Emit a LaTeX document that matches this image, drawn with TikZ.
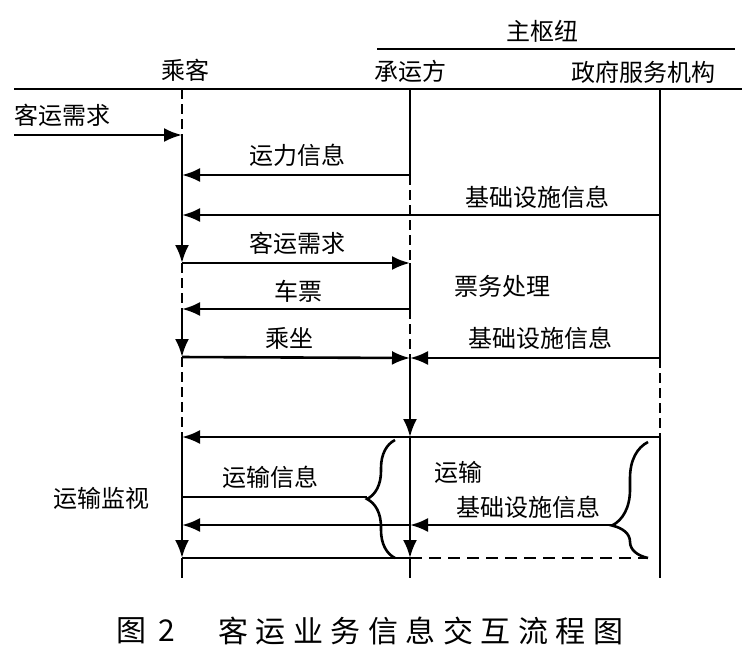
\documentclass[tikz,border=0pt]{standalone}
\usepackage{fontspec}
\usetikzlibrary{arrows.meta,decorations.pathreplacing}
\setmainfont{Noto Sans CJK SC}
\newfontfamily\capfont[LetterSpace=25]{Noto Sans CJK SC}

\tikzset{
  life/.style={line width=1.3pt},
  lifedash/.style={line width=1.3pt,dash pattern=on 5pt off 2.5pt},
  msg/.style={line width=1.3pt,-{Latex[length=9pt,width=7pt]}},
  lbl/.style={font=\fontsize{12}{14}\selectfont,inner sep=0pt}
}

\begin{document}
\begin{tikzpicture}[x=0.5pt,y=-0.5pt]
\useasboundingbox (0,0) rectangle (753,661);

% head
\coordinate (tl) at (377,49);
\coordinate (tr) at (735,49);
\coordinate (hl) at (14,89);
\coordinate (hr) at (742,89);
\node[lbl] (hub) at (542,31) {主枢纽};
\node[lbl] (pas) at (185,70) {乘客};
\node[lbl] (car) at (410,71) {承运方};
\node[lbl] (gov) at (643,72) {政府服务机构};
\draw[life] (tl) -- (tr);
\draw[life] (hl) -- (hr);

% passenger
\coordinate (p0) at (182,89);
\coordinate (p1) at (182,135);
\coordinate (p2) at (182,175);
\coordinate (p3) at (182,215);
\coordinate (p4) at (182,263);
\coordinate (p5) at (182,309);
\coordinate (p6) at (182,357);
\coordinate (p7) at (182,437);
\coordinate (p8) at (182,497);
\coordinate (p9) at (182,525);
\coordinate (p10) at (182,558);
\coordinate (p11) at (182,578);
% carrier
\coordinate (c0) at (410,89);
\coordinate (c2) at (410,175);
\coordinate (c4) at (410,263);
\coordinate (c5) at (410,309);
\coordinate (c6) at (410,358);
\coordinate (c7) at (410,437);
\coordinate (c9) at (410,525);
\coordinate (c10) at (410,558);
\coordinate (c11) at (410,578);
% government
\coordinate (g0) at (660,89);
\coordinate (g3) at (660,215);
\coordinate (g6) at (660,358);
\coordinate (g7) at (660,437);
\coordinate (g11) at (660,578);

\draw[lifedash] (p0) -- (p1);
\draw[msg] (p1) -- (p4);
\draw[lifedash] (p4) -- (p5);
\draw[msg] (p5) -- (p6);
\draw[lifedash] (p6) -- (p7);
\draw[msg] (p7) -- (p10);
\draw[life] (p10) -- (p11);

\draw[life] (c0) -- (c2);
\draw[lifedash] (c2) -- (c4);
\draw[life] (c4) -- (c5);
\draw[lifedash] (c5) -- (c6);
\draw[msg] (c6) -- (c7);
\draw[msg] (c7) -- (c10);
\draw[life] (c10) -- (c11);

\draw[life] (g0) -- (g6);
\draw[lifedash] (g6) -- (g7);
\draw[life] (g7) -- (g11);

% messages
\coordinate (in) at (14,135);
\node[lbl] (m1) at (62,115) {客运需求};
\draw[msg] (in) -- (p1);
\node[lbl] (m2) at (297,155) {运力信息};
\draw[msg] (c2) -- (p2);
\node[lbl] (m3) at (537,197) {基础设施信息};
\draw[msg] (g3) -- (p3);
\node[lbl] (m4) at (297,243) {客运需求};
\draw[msg] (p4) -- (c4);
\node[lbl] (m5) at (298,291) {车票};
\node[lbl] (tk) at (502,286) {票务处理};
\draw[msg] (c5) -- (p5);
\node[lbl] (m6) at (289,338) {乘坐};
\draw[msg] (p6) -- (c6);
\node[lbl] (m7) at (540,338) {基础设施信息};
\draw[msg] (g6) -- (c6);
\draw[msg] (g7) -- (p7);

% transport
\coordinate (lb1) at (395,558);
\coordinate (lb2) at (395,440);
\coordinate (lbt) at (367,497);
\coordinate (rb1) at (648,558);
\coordinate (rb2) at (648,442);
\coordinate (rbt) at (612,525);
\draw[life,decorate,decoration={brace,amplitude=14pt,aspect=0.5}] (lb1) -- (lb2);
\draw[life,decorate,decoration={brace,amplitude=18pt,aspect=0.28}] (rb1) -- (rb2);
\node[lbl] (mon) at (101,498) {运输监视};
\node[lbl] (m8) at (270,477) {运输信息};
\draw[life] (p8) -- (lbt);
\node[lbl] (m9) at (458,472) {运输};
\node[lbl] (m10) at (528,507) {基础设施信息};
\draw[msg] (rbt) -- (c9);
\draw[msg] (c9) -- (p9);
\draw[life] (p10) -- (c10);
\draw[life,dash pattern=on 6pt off 3.5pt] (c10) -- (rb1);

% caption
\node[inner sep=0pt,anchor=west] (fig) at (116,631) {\capfont\fontsize{15}{17}\selectfont 图\hspace{6pt}2};
\node[inner sep=0pt,anchor=west] (cap) at (218,631) {\capfont\fontsize{15}{17}\selectfont 客运业务信息交互流程图};
\end{tikzpicture}
\end{document}
